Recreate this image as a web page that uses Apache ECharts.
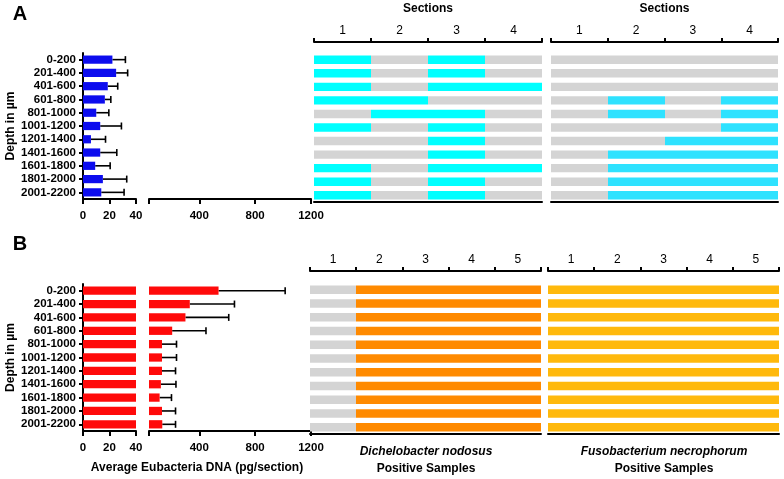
<!DOCTYPE html>
<html>
<head>
<meta charset="utf-8">
<script src="https://cdn.jsdelivr.net/npm/echarts@6/dist/echarts.min.js"></script>
<style>
  html, body { margin: 0; padding: 0; background: #fff; }
  #chart { width: 784px; height: 479px; }
</style>
</head>
<body>
<div id="chart"></div>
<script>
// depth bins (rows, top to bottom)
const depths = ['0-200', '201-400', '401-600', '601-800', '801-1000', '1001-1200',
  '1201-1400', '1401-1600', '1601-1800', '1801-2000', '2001-2200']

// average eubacteria DNA (pg/section) with SD, panel A and B
const eubMeanA = [22.2, 25, 18.7, 16.5, 10, 13, 6, 13, 9.2, 15, 13.8]
const eubSdA = [9.8, 8.7, 7.5, 4.5, 9.5, 16, 11, 12.5, 11.3, 18, 17.2]
const eubMeanB = [538, 332, 301, 206, 133, 133, 133, 125, 116, 133, 135]
const eubSdB = [477, 320, 310, 242, 104, 104, 97, 108, 85, 97, 95]

// axis ticks
const lowTicks = [0, 20, 40]
const highTicks = [40, 400, 800, 1200]
const highLabels = [400, 800, 1200]
const sectionsA = ['1', '2', '3', '4']
const sectionsB = ['1', '2', '3', '4', '5']

// positive samples per section (1 = positive)
const dnPosA = [
  [1, 0, 1, 0], [1, 0, 1, 0], [1, 0, 1, 1], [1, 1, 0, 0], [0, 1, 1, 0], [1, 0, 1, 0],
  [0, 0, 1, 0], [0, 0, 1, 0], [1, 0, 1, 1], [1, 0, 1, 0], [1, 0, 1, 0]
]
const fnPosA = [
  [0, 0, 0, 0], [0, 0, 0, 0], [0, 0, 0, 0], [0, 1, 0, 1], [0, 1, 0, 1], [0, 0, 0, 1],
  [0, 0, 1, 1], [0, 1, 1, 1], [0, 1, 1, 1], [0, 1, 1, 1], [0, 1, 1, 1]
]
const dnPosB = [
  [0, 1, 1, 1, 1], [0, 1, 1, 1, 1], [0, 1, 1, 1, 1], [0, 1, 1, 1, 1], [0, 1, 1, 1, 1], [0, 1, 1, 1, 1],
  [0, 1, 1, 1, 1], [0, 1, 1, 1, 1], [0, 1, 1, 1, 1], [0, 1, 1, 1, 1], [0, 1, 1, 1, 1]
]
const fnPosB = [
  [1, 1, 1, 1, 1], [1, 1, 1, 1, 1], [1, 1, 1, 1, 1], [1, 1, 1, 1, 1], [1, 1, 1, 1, 1], [1, 1, 1, 1, 1],
  [1, 1, 1, 1, 1], [1, 1, 1, 1, 1], [1, 1, 1, 1, 1], [1, 1, 1, 1, 1], [1, 1, 1, 1, 1]
]

const FONT = '"Liberation Sans", Arial, sans-serif'
const GRAY = '#d4d4d4'
const black = { color: '#000', width: 2 }

const chart = echarts.init(document.getElementById('chart'), null, { renderer: 'canvas' })

// grids: 0 A-low, 1 A-high, 2 A-Dn, 3 A-Fn, 4 B-low, 5 B-high, 6 B-Dn, 7 B-Fn
const grid = [
  { left: 83, width: 53, top: 53, height: 146 },
  { left: 149, width: 162, top: 53, height: 146 },
  { left: 314, width: 228, top: 53, height: 149 },
  { left: 551, width: 227, top: 53, height: 149 },
  { left: 83, width: 53, top: 284, height: 147 },
  { left: 149, width: 162, top: 284, height: 147 },
  { left: 310, width: 231, top: 283, height: 151 },
  { left: 548, width: 231, top: 283, height: 151 }
]

const xAxis = []
const yAxis = []

const valueLabel = {
  color: '#000', fontFamily: FONT, fontWeight: 'bold', fontSize: 11.5, margin: 11,
  formatter: v => String(v)
}

function lowAxis(g) {
  xAxis.push({
    gridIndex: g, type: 'value', min: 0, max: 40, interval: 20,
    axisLine: { show: true, lineStyle: black },
    axisTick: { show: true, length: 5, lineStyle: black, customValues: lowTicks },
    axisLabel: Object.assign({ customValues: lowTicks }, valueLabel),
    splitLine: { show: false }
  })
  return xAxis.length - 1
}
function highAxis(g) {
  xAxis.push({
    gridIndex: g, type: 'value', min: 40, max: 1200,
    axisLine: { show: true, lineStyle: black },
    axisTick: { show: true, length: 5, lineStyle: black, customValues: highTicks },
    axisLabel: Object.assign({ customValues: highLabels }, valueLabel),
    splitLine: { show: false }
  })
  return xAxis.length - 1
}
function sectionAxes(g, cats, title, offset) {
  xAxis.push({
    gridIndex: g, type: 'category', data: cats, position: 'top', offset: offset,
    axisLine: { show: true, lineStyle: black },
    axisTick: { show: true, length: 4, lineStyle: black },
    axisLabel: { color: '#000', fontFamily: FONT, fontSize: 12, margin: 5 },
    name: title, nameLocation: 'middle', nameGap: 27,
    nameTextStyle: { color: '#000', fontFamily: FONT, fontWeight: 'bold', fontSize: 12 }
  })
  const top = xAxis.length - 1
  xAxis.push({
    gridIndex: g, type: 'category', data: cats, position: 'bottom',
    axisLine: { show: true, lineStyle: black },
    axisTick: { show: false }, axisLabel: { show: false }
  })
  return top
}
function depthAxis(g, visible) {
  yAxis.push({
    gridIndex: g, type: 'category', data: depths, inverse: true,
    axisLine: { show: visible, lineStyle: black },
    axisTick: { show: visible, interval: 0, alignWithLabel: true, length: 4, lineStyle: black },
    axisLabel: { show: visible, interval: 0, color: '#000', fontFamily: FONT, fontWeight: 'bold', fontSize: 11.5, margin: 7 },
    name: visible ? 'Depth in µm' : '', nameLocation: 'middle', nameGap: 66, nameRotate: 90,
    nameTextStyle: { color: '#000', fontFamily: FONT, fontWeight: 'bold', fontSize: 12 }
  })
  return yAxis.length - 1
}

function barSeries(xi, yi, values, color) {
  return {
    type: 'bar', xAxisIndex: xi, yAxisIndex: yi, data: values, barWidth: '62%',
    itemStyle: { color: color }, clip: true, silent: true
  }
}

function errSeries(xi, yi, means, sds) {
  return {
    type: 'custom', xAxisIndex: xi, yAxisIndex: yi, silent: true,
    data: means.map((m, i) => [m, m + sds[i], i]),
    encode: { x: [0, 1], y: 2 },
    renderItem: (params, api) => {
      const cs = params.coordSys
      const row = api.value(2)
      const p0 = api.coord([api.value(0), row])
      const p1 = api.coord([api.value(1), row])
      const L = cs.x, R = cs.x + cs.width
      if (p0[0] > R || p1[0] < L) return
      const x0 = Math.max(p0[0], L)
      const x1 = Math.min(p1[0], R)
      const y = p0[1]
      const st = { stroke: '#000', lineWidth: 1.6 }
      const children = [{ type: 'line', shape: { x1: x0, y1: y, x2: x1, y2: y }, style: st }]
      if (p1[0] <= R) {
        children.push({ type: 'line', shape: { x1: x1, y1: y - 3.5, x2: x1, y2: y + 3.5 }, style: st })
      }
      return { type: 'group', children: children }
    }
  }
}

function sectionSeries(xi, yi, matrix, color) {
  const data = []
  matrix.forEach((row, r) => row.forEach((v, s) => data.push([s, r, v])))
  return {
    type: 'custom', xAxisIndex: xi, yAxisIndex: yi, silent: true, data: data,
    renderItem: (params, api) => {
      const c = api.coord([api.value(0), api.value(1)])
      const sz = api.size([1, 1])
      const h = sz[1] * 0.62
      const xl = Math.round(c[0] - sz[0] / 2)
      const xr = Math.round(c[0] + sz[0] / 2)
      return {
        type: 'rect',
        shape: { x: xl, y: c[1] - h / 2, width: xr - xl, height: h },
        style: { fill: api.value(2) ? color : GRAY }
      }
    }
  }
}

const series = []

// panel A
let xa = lowAxis(0), ya = depthAxis(0, true)
series.push(barSeries(xa, ya, eubMeanA, '#0c0cee'), errSeries(xa, ya, eubMeanA, eubSdA))
xa = highAxis(1); ya = depthAxis(1, false)
series.push(barSeries(xa, ya, eubMeanA, '#0c0cee'), errSeries(xa, ya, eubMeanA, eubSdA))
xa = sectionAxes(2, sectionsA, 'Sections', 11); ya = depthAxis(2, false)
series.push(sectionSeries(xa, ya, dnPosA, '#00ffff'))
xa = sectionAxes(3, sectionsA, 'Sections', 11); ya = depthAxis(3, false)
series.push(sectionSeries(xa, ya, fnPosA, '#2ee2ff'))

// panel B
xa = lowAxis(4); ya = depthAxis(4, true)
series.push(barSeries(xa, ya, eubMeanB, '#ff0a0a'), errSeries(xa, ya, eubMeanB, eubSdB))
xa = highAxis(5); ya = depthAxis(5, false)
series.push(barSeries(xa, ya, eubMeanB, '#ff0a0a'), errSeries(xa, ya, eubMeanB, eubSdB))
xa = sectionAxes(6, sectionsB, '', 12); ya = depthAxis(6, false)
series.push(sectionSeries(xa, ya, dnPosB, '#ff8a00'))
xa = sectionAxes(7, sectionsB, '', 12); ya = depthAxis(7, false)
series.push(sectionSeries(xa, ya, fnPosB, '#ffb90c'))

function txt(x, y, text, size, italic) {
  return {
    type: 'text', x: x, y: y, silent: true,
    style: {
      text: text, fill: '#000', align: 'center', verticalAlign: 'middle',
      font: (italic ? 'italic ' : '') + 'bold ' + size + 'px ' + FONT
    }
  }
}

chart.setOption({
  backgroundColor: '#fff',
  animation: false,
  grid: grid,
  xAxis: xAxis,
  yAxis: yAxis,
  series: series,
  graphic: [
    txt(20, 14, 'A', 20),
    txt(20, 244, 'B', 20),
    txt(197, 468, 'Average Eubacteria DNA (pg/section)', 12),
    txt(426, 452, 'Dichelobacter nodosus', 12, true),
    txt(426, 469, 'Positive Samples', 12),
    txt(664, 452, 'Fusobacterium necrophorum', 12, true),
    txt(664, 469, 'Positive Samples', 12)
  ]
})
</script>
</body>
</html>
